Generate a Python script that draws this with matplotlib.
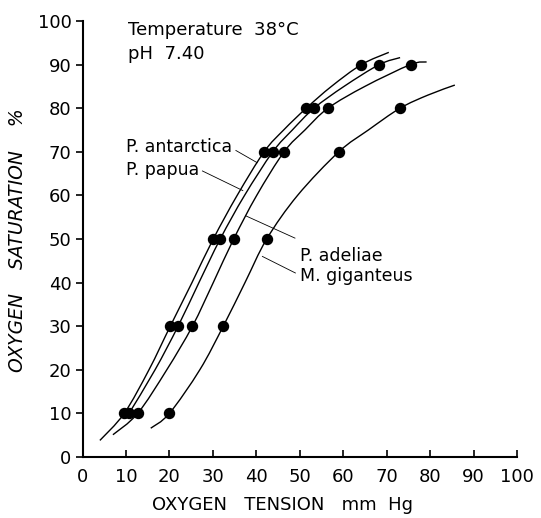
import numpy as np
import matplotlib
matplotlib.use("Agg")
from matplotlib import pyplot as plt
from matplotlib.path import Path
from matplotlib.patches import PathPatch

# measured points (oxygen tension mm Hg, saturation %)
sat_levels = [10, 30, 50, 70, 80, 90]
antarctica_p = [9.6, 20.2, 30.1, 41.8, 51.5, 64.2]
papua_p = [10.7, 22.0, 31.7, 43.8, 53.3, 68.3]
adeliae_p = [12.7, 25.3, 34.8, 46.4, 56.5, 75.5]
giganteus_sat = [10, 30, 50, 70, 80]
giganteus_p = [20.0, 32.4, 42.4, 59.0, 73.1]

# hand drawn dissociation curves
antarctica_cx = [4.0, 9.6, 15.3, 20.2, 25.2, 30.1, 35.6, 41.8, 46.3, 51.5, 57.3, 64.2, 70.5]
antarctica_cy = [3.8, 10, 20, 30, 40, 50, 60, 70, 75, 80, 85, 90, 92.8]
papua_cx = [10.0, 10.7, 16.7, 22.0, 26.8, 31.7, 37.3, 43.8, 48.3, 53.3, 60.2, 68.3, 73.1]
papua_cy = [9.0, 10, 20, 30, 40, 50, 60, 70, 75, 80, 85, 90, 91.6]
adeliae_cx = [7.0, 12.7, 19.4, 25.3, 30.1, 34.8, 40.1, 46.4, 51.2, 56.5, 65.0, 75.5, 79.2]
adeliae_cy = [5.1, 10, 20, 30, 40, 50, 60, 70, 75, 80, 85, 90, 90.6]
giganteus_cx = [15.7, 20.0, 27.0, 32.4, 37.4, 42.4, 49.5, 59.0, 65.8, 73.1, 79.5, 85.7]
giganteus_cy = [6.6, 10, 20, 30, 40, 50, 60, 70, 75, 80, 83.0, 85.3]

xticks = list(range(0, 101, 10))
yticks = list(range(0, 101, 10))


def smooth_path(xs, ys):
    # bezier path through the read points (catmull-rom style handles)
    p = np.column_stack([xs, ys]).astype(float)
    verts = [p[0]]
    codes = [Path.MOVETO]
    n = len(p)
    for i in range(n - 1):
        p0 = p[i - 1] if i > 0 else p[i]
        p3 = p[i + 2] if i + 2 < n else p[i + 1]
        c1 = p[i] + (p[i + 1] - p0) / 6
        c2 = p[i + 1] - (p3 - p[i]) / 6
        verts += [c1, c2, p[i + 1]]
        codes += [Path.CURVE4] * 3
    return Path(verts, codes)


fig = plt.figure(figsize=(5.41, 5.18), dpi=100)
ax = fig.add_axes([0.1525, 0.1178, 0.8031, 0.8417])

for cx, cy in [(antarctica_cx, antarctica_cy), (papua_cx, papua_cy),
               (adeliae_cx, adeliae_cy), (giganteus_cx, giganteus_cy)]:
    ax.add_patch(PathPatch(smooth_path(cx, cy), fill=False, edgecolor="black", lw=1.0))

for px, sy in [(antarctica_p, sat_levels), (papua_p, sat_levels),
               (adeliae_p, sat_levels), (giganteus_p, giganteus_sat)]:
    ax.plot(px, sy, "o", color="black", ms=7.2, clip_on=False)

# species labels with leader lines
ax.text(10.0, 71.2, "P. antarctica", fontsize=12.5, va="center")
ax.plot([35.3, 40.2], [70.3, 67.5], color="black", lw=0.6)
ax.text(10.0, 65.9, "P. papua", fontsize=12.5, va="center")
ax.plot([27.6, 36.9], [65.6, 61.1], color="black", lw=0.6)
ax.text(50.1, 46.0, "P. adeliae", fontsize=12.5, va="center")
ax.plot([37.6, 48.9], [55.3, 50.2], color="black", lw=0.6)
ax.text(50.1, 41.4, "M. giganteus", fontsize=12.5, va="center")
ax.plot([41.4, 49.0], [46.0, 42.2], color="black", lw=0.6)

ax.text(10.4, 97.9, "Temperature  38°C", fontsize=13, va="center")
ax.text(10.4, 92.5, "pH  7.40", fontsize=13, va="center")

ax.set_xlim(0, 100)
ax.set_ylim(0, 100)
ax.set_xticks(xticks)
ax.set_yticks(yticks)
ax.spines["top"].set_visible(False)
ax.spines["right"].set_visible(False)
ax.spines["left"].set_linewidth(1.5)
ax.spines["bottom"].set_linewidth(1.5)
ax.tick_params(axis="x", direction="in", length=5, width=1.2, pad=8, labelsize=13)
ax.tick_params(axis="y", direction="out", length=5, width=1.2, pad=3, labelsize=13)

fig.text(283 / 541, 1 - 505 / 518, "OXYGEN   TENSION   mm  Hg", ha="center", va="center", fontsize=13)
fig.text(18 / 541, 1 - 240 / 518, "OXYGEN    SATURATION    %", ha="center", va="center",
         rotation=90, fontsize=13.5, style="italic")

fig.savefig("out.png", dpi=100)
